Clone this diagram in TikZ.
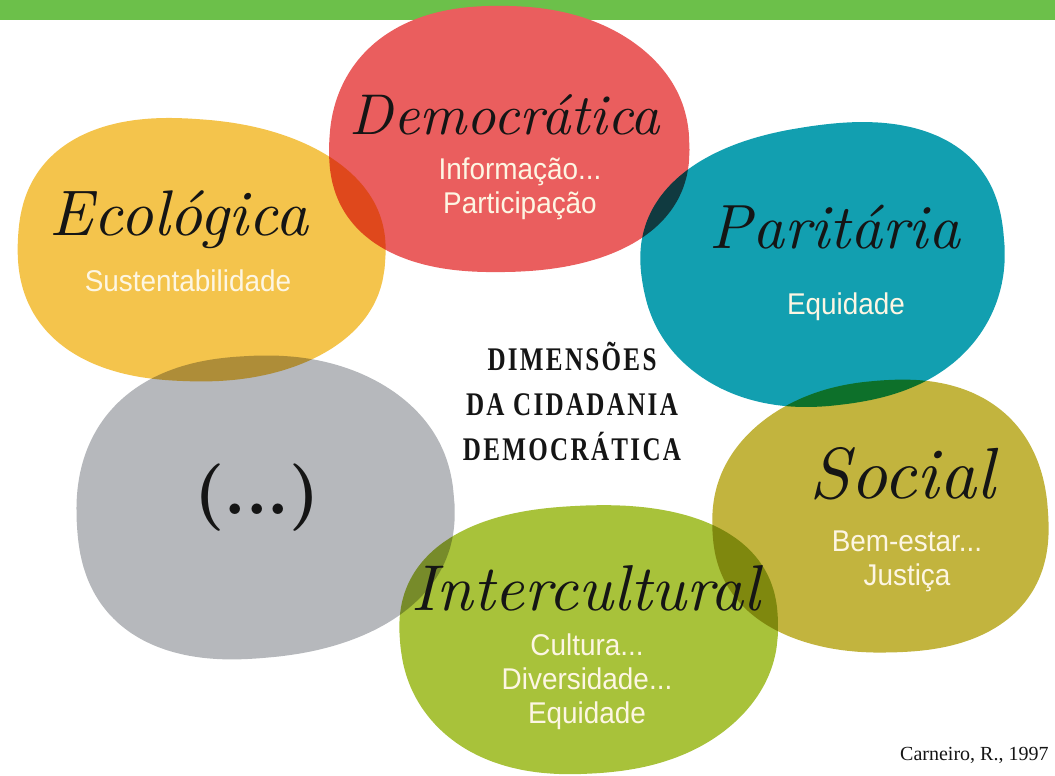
\documentclass[tikz,border=0pt]{standalone}
\usepackage{fontspec}
\usepackage{graphicx}
\newfontfamily\subfont[FakeStretch=0.93]{Liberation Sans}
\newfontfamily\titlefont[FakeStretch=0.76,LetterSpace=7]{Liberation Serif}
\newfontfamily\citefont{Liberation Serif}
\definecolor{barg}{HTML}{6CC04A}
\definecolor{cred}{HTML}{EA5E5E}
\definecolor{cyel}{HTML}{F4C44C}
\definecolor{cteal}{HTML}{129FB0}
\definecolor{colive}{HTML}{C2B43E}
\definecolor{cgrey}{HTML}{B6B8BC}
\definecolor{cgreen}{HTML}{A8C23A}
\definecolor{cream}{HTML}{FDF6E3}
\definecolor{ink}{HTML}{151515}
\newcommand\hand[2]{\resizebox{#1pt}{!}{\itshape #2}}
% blob: colour, cx, cy, rx, ry, rotation, phase
\newcommand\blob[7]{%
  \fill[#1, rotate around={#6:(#2,#3)}] plot[domain=2.5:362.5, samples=72, smooth cycle, variable=\t]
   ({#2+#4*(1+0.02*sin(3*\t+#7))*cos(\t)*pow(abs(cos(\t))+0.001,-0.12)},
    {#3+#5*(1+0.02*sin(3*\t+#7))*sin(\t)*pow(abs(sin(\t))+0.001,-0.12)});}
\tikzset{
  hw/.style={text=ink, inner sep=0pt},
  sub/.style={text=cream, font=\subfont\fontsize{30}{34}\selectfont, align=center, inner sep=0pt},
  ttl/.style={text=ink, font=\titlefont\bfseries\fontsize{33}{45}\selectfont, align=center, inner sep=0pt}
}
\begin{document}
\begin{tikzpicture}[x=1pt,y=-1pt]
\useasboundingbox (0,0) rectangle (1055,776);
\fill[barg] (0,0) rectangle (1055,20);
% red blob (opaque over the bar)
\blob{cred}{507}{141}{180}{133}{0}{40}
\begin{scope}[blend mode=multiply]
\blob{cyel}{198}{250}{184}{131}{-3}{100}
\blob{cteal}{825}{263}{182}{140}{8}{200}
\blob{colive}{883}{518}{168}{136}{3}{300}
\blob{cgrey}{262}{508}{189}{151}{4}{60}
\blob{cgreen}{588}{637}{189}{134}{3}{160}
\end{scope}
% handwritten titles
\node[hw] (demo) at (505,115) {\hand{310}{Democrática}};
\node[hw] (eco) at (179,220) {\hand{258}{Ecológica}};
\node[hw] (pari) at (835,227) {\hand{250}{Paritária}};
\node[hw] (soc) at (902,474) {\hand{185}{Social}};
\node[hw] (inter) at (586,588) {\hand{348}{Intercultural}};
\node[hw] (etc) at (257,498) {\resizebox{125pt}{!}{\bfseries (...)}};
% sub labels
\node[sub] (demosub) at (520,189) {Informação...\\Participação};
\node[sub] (ecosub) at (188,281) {Sustentabilidade};
\node[sub] (parisub) at (846,307) {Equidade};
\node[sub] (socsub) at (907,561) {Bem-estar...\\Justiça};
\node[sub] (intersub) at (587,682) {Cultura...\\Diversidade...\\Equidade};
% central title
\node[ttl] (title) at (572,401) {DIMENSÕES\\DA CIDADANIA\\DEMOCRÁTICA};
% citation
\node[anchor=base west, inner sep=0pt, text=ink, font=\citefont\fontsize{20}{24}\selectfont] (cite) at (900,760) {Carneiro, R., 1997};
\end{tikzpicture}
\end{document}
